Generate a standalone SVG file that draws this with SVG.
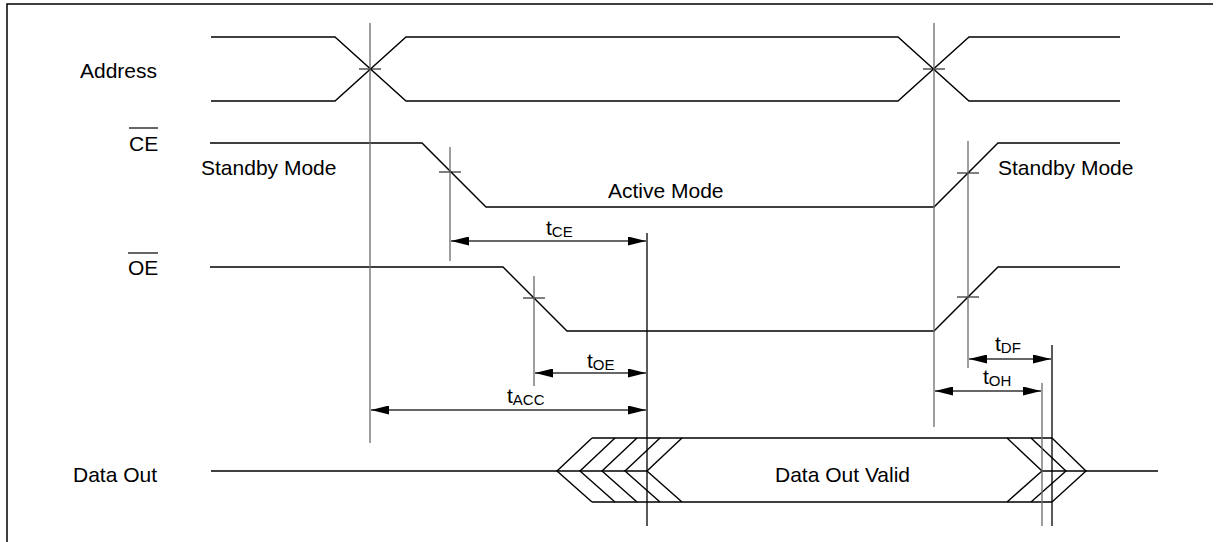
<svg xmlns="http://www.w3.org/2000/svg" width="1219" height="542" viewBox="0 0 1219 542">
<style>
.sig{fill:none;stroke:#000;stroke-width:1.4;stroke-linejoin:miter}
.guide{fill:none;stroke:#6a6a6a;stroke-width:1.3}
.guideb{fill:none;stroke:#000;stroke-width:1.3}
.dim{fill:none;stroke:#333;stroke-width:1.3;marker-start:url(#ah);marker-end:url(#ah)}
.tick{fill:none;stroke:#000;stroke-width:1.2}
text{font-family:"Liberation Sans",Arial,sans-serif;font-size:21px;fill:#000}
.sub{font-size:15px}
</style>
<defs>
<marker id="ah" viewBox="0 0 18 9" refX="18" refY="4.5" markerWidth="18" markerHeight="9" markerUnits="userSpaceOnUse" orient="auto-start-reverse">
<path d="M0,0 L18,4.5 L0,9 Z" fill="#000"/>
</marker>
</defs>
<g id="frame"><path d="M7,542 V4 H1213" fill="none" stroke="#000" stroke-width="1.5"/></g>

<g id="address">
<text x="80" y="78">Address</text>
<path class="sig" d="M211,37 H335 L406,101 H898 L969,37 H1120"/>
<path class="sig" d="M211,101 H335 L406,37 H898 L969,101 H1120"/>
<path class="tick" d="M359,69 H381 M923,69 H945"/>
</g>

<g id="ce">
<text x="129" y="151">CE</text>
<path d="M129,128 H158" stroke="#000" stroke-width="1.2"/>
<text x="201" y="175">Standby Mode</text>
<text x="608" y="198">Active Mode</text>
<text x="998" y="175">Standby Mode</text>
<path class="sig" d="M210,143 H422 L486,207 H934 L998,143 H1120"/>
<path class="tick" d="M439,172 H461 M957,173 H979"/>
</g>

<g id="oe">
<text x="128" y="275">OE</text>
<path d="M128,253 H158" stroke="#000" stroke-width="1.2"/>
<path class="sig" d="M210,267 H503 L567,331 H934 L998,267 H1120"/>
<path class="tick" d="M523,298 H545 M957,297 H979"/>
</g>

<g id="dataout">
<text x="73" y="482">Data Out</text>
<text x="775" y="482">Data Out Valid</text>
<path class="sig" d="M211,471 H647"/>
<path class="sig" d="M592,438 H1052 M592,502 H1052"/>
<path class="sig" d="M592,438 L557,471 L592,502 M615,438 L580,471 L615,502 M637,438 L602,471 L637,502 M660,438 L625,471 L660,502 M682,438 L647,471 L682,502"/>
<path class="sig" d="M1007,438 L1042,471 L1007,502 M1031,438 L1066,471 L1031,502 M1052,438 L1086,471 L1052,502"/>
<path class="sig" d="M1042,471 H1158"/>
</g>

<g id="connectors">
<path class="guide" d="M370,23 V443"/>
<path class="guide" d="M934,23 V427"/>
<path class="guide" d="M450,147 V261"/>
<path class="guide" d="M534,276 V386"/>
<path class="guide" d="M968,141 V368"/>
<path class="guide" d="M1042,383 V526"/>
<path class="guideb" d="M647,233 V526"/>
<path class="guideb" d="M1052,345 V526"/>
<path class="dim" d="M451,241 H646"/>
<path class="dim" d="M535,373 H646"/>
<path class="dim" d="M371,410 H646"/>
<path class="dim" d="M969,359 H1051"/>
<path class="dim" d="M935,391 H1041"/>
<text x="546" y="235">t<tspan class="sub" dy="2">CE</tspan></text>
<text x="587" y="368">t<tspan class="sub" dy="2">OE</tspan></text>
<text x="507" y="403">t<tspan class="sub" dy="2">ACC</tspan></text>
<text x="995" y="351">t<tspan class="sub" dy="2">DF</tspan></text>
<text x="983" y="384">t<tspan class="sub" dy="2">OH</tspan></text>
</g>
</svg>
